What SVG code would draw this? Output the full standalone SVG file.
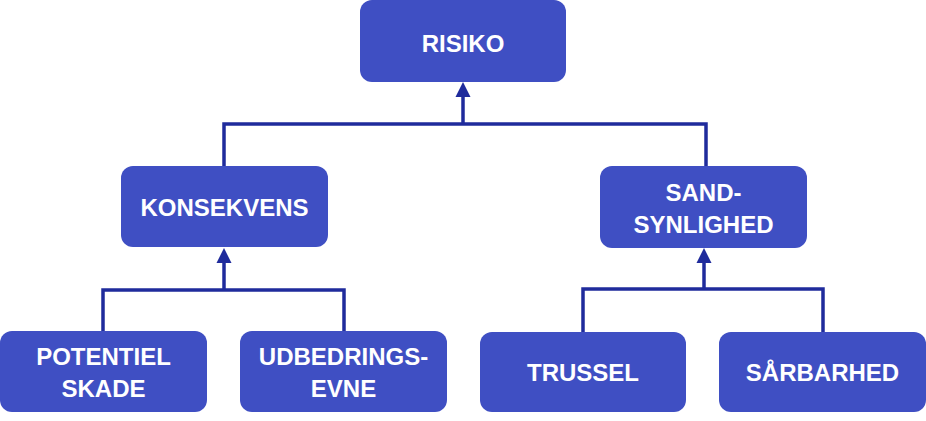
<svg xmlns="http://www.w3.org/2000/svg" width="926" height="421" viewBox="0 0 926 421">
<style>
.box{fill:#3f4fc3}
.lbl{fill:#ffffff;font-family:"Liberation Sans",Arial,sans-serif;font-weight:bold;font-size:24px;text-anchor:middle}
.conn{fill:none;stroke:#1f2b9c;stroke-width:3.5}
.head{fill:#1f2b9c}
</style>
<rect width="926" height="421" fill="#ffffff"/>
<g id="connectors">
<path class="conn" d="M224,166 V124 H706 V166"/>
<path class="conn" d="M463,124 V96"/>
<polygon class="head" points="463,82 455.5,97 470.5,97"/>
<path class="conn" d="M103,331 V290 H344 V331"/>
<path class="conn" d="M224,290 V262"/>
<polygon class="head" points="224,248 216.5,263 231.5,263"/>
<path class="conn" d="M583,332 V289 H823 V332"/>
<path class="conn" d="M704,289 V262"/>
<polygon class="head" points="704,248 696.5,263 711.5,263"/>
</g>
<g id="risiko">
<rect class="box" x="360" y="0" width="206" height="82" rx="12"/>
<text class="lbl" x="463" y="52">RISIKO</text>
</g>
<g id="konsekvens">
<rect class="box" x="121" y="166" width="207" height="81" rx="12"/>
<text class="lbl" x="224.5" y="216">KONSEKVENS</text>
</g>
<g id="sandsynlighed">
<rect class="box" x="600" y="166" width="207" height="82" rx="12"/>
<text class="lbl" x="703.5" y="201">SAND-</text>
<text class="lbl" x="703.5" y="233">SYNLIGHED</text>
</g>
<g id="potentiel">
<rect class="box" x="0" y="331" width="207" height="81" rx="12"/>
<text class="lbl" x="103.5" y="365">POTENTIEL</text>
<text class="lbl" x="103.5" y="397">SKADE</text>
</g>
<g id="udbedringsevne">
<rect class="box" x="240" y="331" width="207" height="81" rx="12"/>
<text class="lbl" x="343.5" y="365">UDBEDRINGS-</text>
<text class="lbl" x="343.5" y="397">EVNE</text>
</g>
<g id="trussel">
<rect class="box" x="480" y="332" width="206" height="80" rx="12"/>
<text class="lbl" x="583" y="381">TRUSSEL</text>
</g>
<g id="saarbarhed">
<rect class="box" x="719" y="332" width="207" height="80" rx="12"/>
<text class="lbl" x="822.5" y="381">SÅRBARHED</text>
</g>
</svg>
